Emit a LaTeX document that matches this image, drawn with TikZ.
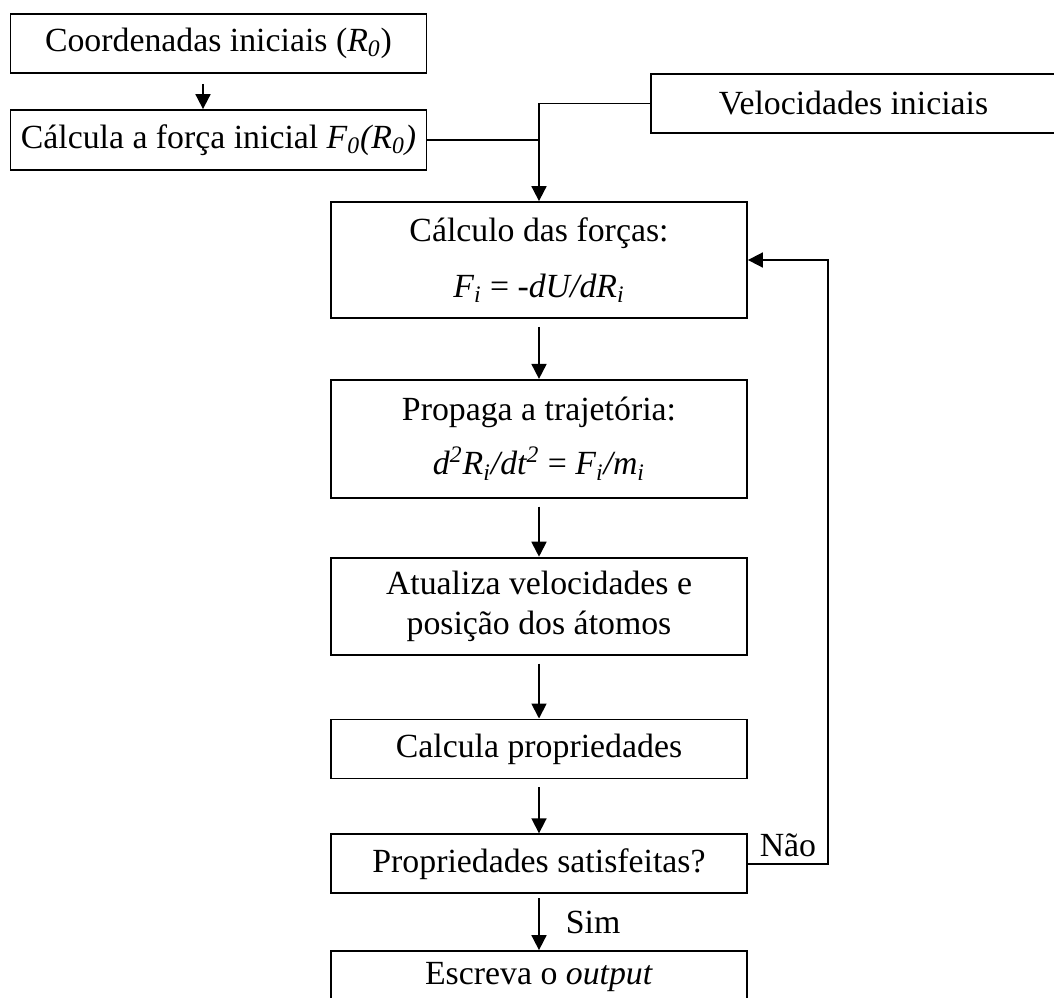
\documentclass[tikz,border=0pt]{standalone}
\usepackage{fontspec}
\setmainfont{Liberation Serif}
\usepackage{tikz}
\usetikzlibrary{arrows.meta,positioning}
\tikzset{
  box/.style={draw,line width=0.9pt,align=center,font=\fontsize{16.9}{20}\selectfont,minimum width=208pt,minimum height=29.5pt,inner sep=2pt},
  lbl/.style={font=\fontsize{16.9}{20}\selectfont,inner sep=3pt},
  arr/.style={-{Triangle[length=7.5pt,width=7.5pt]},line width=0.9pt},
}

\begin{document}
\begin{tikzpicture}[x=0.5pt,y=-0.5pt]
  \useasboundingbox (0,0) rectangle (1054,997);
  \node[box] (n1) at (218.5,43.5) {Coordenadas iniciais (\textit{R\textsubscript{0}})};
  \node[box,minimum height=30pt] (n2) at (218.5,140) {Cálcula a força inicial \textit{F\textsubscript{0}(R\textsubscript{0})}};
  \node[box,minimum width=202.5pt] (v) at (853.5,103.5) {Velocidades iniciais};
  \node[box,minimum height=58pt] (n3) at (539,260) {Cálculo das forças:\\[8pt]\textit{F\textsubscript{i}} = \textit{-dU/dR\textsubscript{i}}};
  \node[box,minimum height=59pt,below=30pt of n3] (n4) {Propaga a trajetória:\\[7pt]\textit{d\textsuperscript{2}R\textsubscript{i}/dt\textsuperscript{2}} = \textit{F\textsubscript{i}/m\textsubscript{i}}};
  \node[box,minimum height=48.5pt,below=29pt of n4] (n5) {Atualiza velocidades e\\posição dos átomos};
  \node[box,below=31.5pt of n5] (n6) {Calcula propriedades};
  \node[box,below=27pt of n6] (n7) {Propriedades satisfeitas?};
  \node[box,below=28pt of n7,text depth=7pt] (n8) {Escreva o \textit{output}};
  \draw[arr,shorten <=5pt] ([xshift=-7.75pt]n1.south) -- ([xshift=-7.75pt]n2.north);
  \draw[line width=0.9pt] (n2.east) -- (n2.east -| n3.north);
  \draw[arr] (v.west) -| (n3.north);
  \foreach \a/\b in {n3/n4,n4/n5,n5/n6,n6/n7}{\draw[arr,shorten <=4pt] (\a) -- (\b);}
  \draw[arr,shorten <=2pt] (n7) -- node[lbl,right=10pt] (yes) {Sim} (n8);
  \draw[arr] (n7.east) -- node[lbl,above] (no) {Não} ++(80,0) |- (n3.east);
\end{tikzpicture}
\end{document}
